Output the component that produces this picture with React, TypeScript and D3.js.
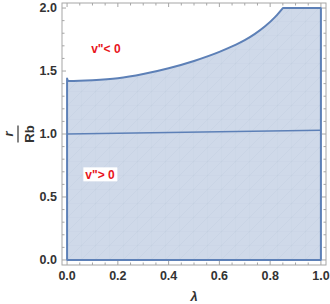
import * as d3 from 'd3'

const W = 330
const H = 304

// upper boundary of the region (curved part)
const lambdaUpper = [0, 0.005, 0.1, 0.2, 0.3, 0.4, 0.5, 0.6, 0.65, 0.7, 0.74, 0.78, 0.82, 0.85]
const rUpper = [1.44, 1.42, 1.426, 1.442, 1.476, 1.522, 1.58, 1.652, 1.695, 1.745, 1.795, 1.855, 1.93, 2.0]
// flat cap at r = 2
const lambdaCap = [0.85, 1.0]
const rCap = [2.0, 2.0]

// the inner line r ~ Rb
const lambdaLower = [0, 1]
const rLower = [1.0, 1.03]

const xMajor = [0, 0.2, 0.4, 0.6, 0.8, 1.0]
const yMajor = [0, 0.5, 1.0, 1.5, 2.0]

const labels = [
  { text: 'v"< 0', lambda: 0.095, r: 1.64, boxed: false },
  { text: 'v"> 0', lambda: 0.072, r: 0.64, boxed: true },
]

const BLUE = '#5d80b7'
const FILL = '#cfd9e9'
const FRAME = '#a6a6a6'
const TICK_TEXT = '#333'

export default function App() {
  const frame = { left: 62, right: 326, top: 3, bottom: 265 }
  const x = d3.scaleLinear().domain([-0.02, 1.02]).range([frame.left, frame.right])
  const y = d3.scaleLinear().domain([-0.04, 2.04]).range([frame.bottom, frame.top])

  const curve = d3
    .line<number>()
    .x((_, i) => x(lambdaUpper[i]))
    .y((v) => y(v))
    .curve(d3.curveMonotoneX)(rUpper) ?? ''
  const cap = d3
    .line<number>()
    .x((_, i) => x(lambdaCap[i]))
    .y((v) => y(v))(rCap) ?? ''

  const region =
    `M${x(0)},${y(0)} ` +
    curve.replace(/^M/, 'L') +
    ' ' +
    cap.replace(/^M/, 'L') +
    ` L${x(1)},${y(0)} Z`

  const lower = d3
    .line<number>()
    .x((_, i) => x(lambdaLower[i]))
    .y((v) => y(v))(rLower) ?? ''

  const xMinor = d3.range(0, 1.0001, 0.05).filter((v) => !xMajor.some((m) => Math.abs(m - v) < 1e-6))
  const yMinor = d3.range(0, 2.0001, 0.1).filter((v) => !yMajor.some((m) => Math.abs(m - v) < 1e-6))

  const font = '"Liberation Sans", Arial, sans-serif'

  return (
    <svg
      width={W}
      height={H}
      viewBox={`0 0 ${W} ${H}`}
      style={{ position: 'absolute', left: 0, top: 0, background: '#fff' }}
      fontFamily={font}
    >
      <defs>
        <clipPath id="regionClip">
          <path d={region} />
        </clipPath>
        <pattern id="mesh" width={14} height={14} patternUnits="userSpaceOnUse" x={x(0)} y={y(0)}>
          <path d="M0,14 L14,0 M0,0 L0,14 M0,14 L14,14" stroke="#b4c2d6" strokeWidth={0.5} opacity={0.45} fill="none" />
        </pattern>
      </defs>

      {/* region */}
      <path d={region} fill={FILL} />
      <rect
        x={frame.left}
        y={frame.top}
        width={frame.right - frame.left}
        height={frame.bottom - frame.top}
        fill="url(#mesh)"
        clipPath="url(#regionClip)"
      />
      <path d={region} fill="none" stroke={BLUE} strokeWidth={2} strokeLinejoin="round" />
      <path d={lower} fill="none" stroke={BLUE} strokeWidth={1.6} />

      {/* frame */}
      <rect
        x={frame.left}
        y={frame.top}
        width={frame.right - frame.left}
        height={frame.bottom - frame.top}
        fill="none"
        stroke={FRAME}
        strokeWidth={1}
      />

      {/* ticks */}
      <g stroke={FRAME} strokeWidth={1}>
        {xMajor.map((v) => (
          <g key={`xm${v}`}>
            <line x1={x(v)} x2={x(v)} y1={frame.bottom} y2={frame.bottom - 4} />
            <line x1={x(v)} x2={x(v)} y1={frame.top} y2={frame.top + 4} />
          </g>
        ))}
        {xMinor.map((v) => (
          <g key={`xn${v}`}>
            <line x1={x(v)} x2={x(v)} y1={frame.bottom} y2={frame.bottom - 2.5} />
            <line x1={x(v)} x2={x(v)} y1={frame.top} y2={frame.top + 2.5} />
          </g>
        ))}
        {yMajor.map((v) => (
          <g key={`ym${v}`}>
            <line x1={frame.left} x2={frame.left + 4} y1={y(v)} y2={y(v)} />
            <line x1={frame.right} x2={frame.right - 4} y1={y(v)} y2={y(v)} />
          </g>
        ))}
        {yMinor.map((v) => (
          <g key={`yn${v}`}>
            <line x1={frame.left} x2={frame.left + 2.5} y1={y(v)} y2={y(v)} />
            <line x1={frame.right} x2={frame.right - 2.5} y1={y(v)} y2={y(v)} />
          </g>
        ))}
      </g>

      {/* tick labels */}
      <g fontSize={12.5} fontWeight="bold" fill={TICK_TEXT}>
        {xMajor.map((v) => (
          <text key={`xl${v}`} x={x(v)} y={280} textAnchor="middle">
            {v.toFixed(1)}
          </text>
        ))}
        {yMajor.map((v) => (
          <text key={`yl${v}`} x={frame.left - 5} y={y(v)} dy="0.35em" textAnchor="end">
            {v.toFixed(1)}
          </text>
        ))}
      </g>

      {/* axis titles */}
      <text x={(frame.left + frame.right) / 2} y={301} textAnchor="middle" fontSize={13} fontWeight="bold" fontStyle="italic" fill={TICK_TEXT}>
        λ
      </text>
      <g transform={`translate(18, ${(frame.top + frame.bottom) / 2}) rotate(-90)`} fill={TICK_TEXT} fontWeight="bold" fontSize={13}>
        <text x={0} y={-5} textAnchor="middle" fontStyle="italic">
          r
        </text>
        <line x1={-8.5} x2={8.5} y1={0} y2={0} stroke={TICK_TEXT} strokeWidth={1.2} />
        <text x={0} y={16} textAnchor="middle">
          Rb
        </text>
      </g>

      {/* region annotations */}
      {labels.map((l) => (
        <g key={l.text}>
          {l.boxed && <rect x={x(l.lambda) - 2} y={y(l.r) - 12} width={34} height={14} fill="#fff" />}
          <text x={x(l.lambda)} y={y(l.r)} fontSize={12} fontWeight="bold" fill="#e8141b">
            {l.text}
          </text>
        </g>
      ))}
    </svg>
  )
}
